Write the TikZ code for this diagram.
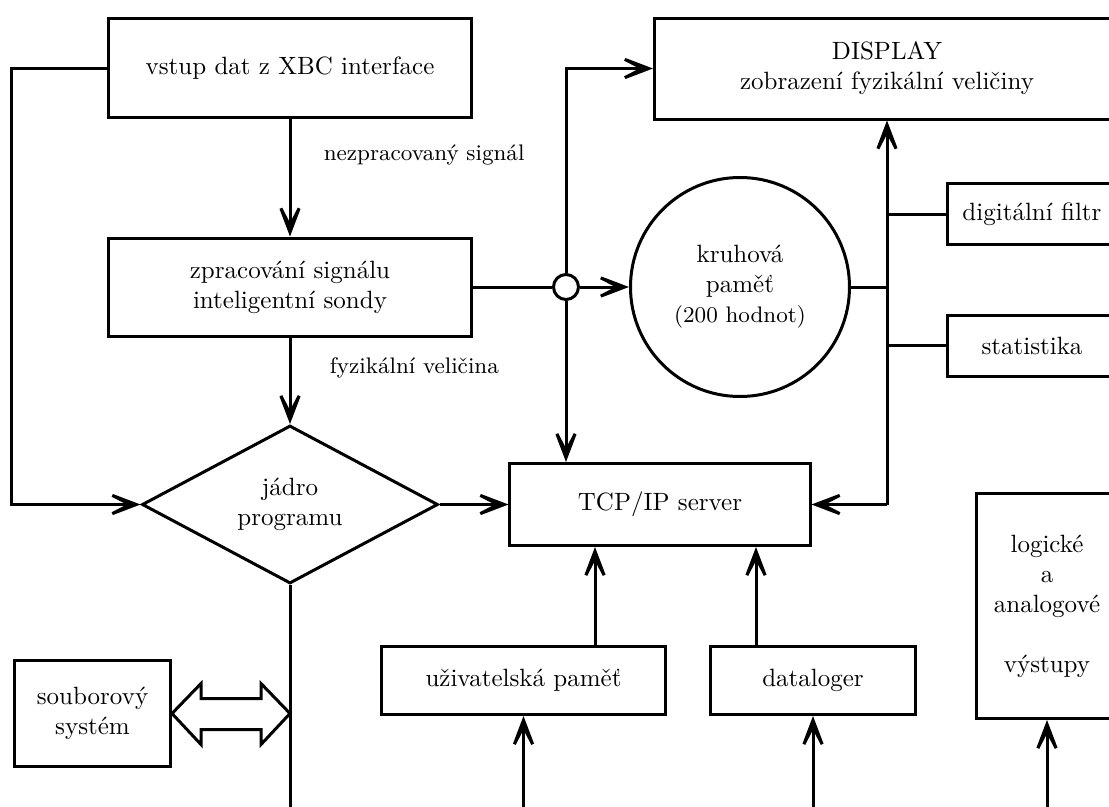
\documentclass[tikz,border=0pt]{standalone}
\usepackage{tikz}
\usetikzlibrary{arrows.meta,positioning,calc,shapes.geometric}
\tikzset{
  blok/.style={draw,line width=1.2pt,fill=white,align=center,inner sep=2pt},
  vetev/.style={line width=1.2pt},
  sip/.style={vetev,-{Stealth[length=21pt,width=16pt,inset=15.5pt]}},
  popis/.style={font=\small,anchor=west},
}

\begin{document}
\begin{tikzpicture}[x=0.4pt,y=-0.4pt]
  \useasboundingbox (0,0) rectangle (1109,807);
  \clip (0,0) rectangle (1109,807);
  % bloky
  \node[blok,minimum width=144.8pt,minimum height=39.6pt] (vstup) at (290,68) {vstup dat z XBC interface};
  \node[blok,minimum width=144.8pt,minimum height=39.2pt] (zprac) at (290,287) {zpracování signálu\\inteligentní sondy};
  \node[blok,diamond,aspect=1.87,inner sep=0pt,minimum width=118.4pt,minimum height=63.2pt] (jadro) at (290,504.5) {jádro\\programu};
  \node[blok,minimum width=120pt,minimum height=32.8pt] (tcp) at (660,504.5) {TCP/IP server};
  \node[blok,minimum width=186pt,minimum height=40.4pt] (disp) at (887,68.5) {DISPLAY\\zobrazení fyzikální veličiny};
  \node[blok,circle,inner sep=0pt,minimum size=87.6pt] (kruh) at (740,287) {kruhová\\paměť\\{\small(200 hodnot)}};
  \node[blok,circle,inner sep=0pt,minimum size=10pt] (jn) at (566,287) {};
  \node[blok,minimum width=67.6pt,minimum height=24.4pt] (filtr) at (1032,214) {digitální filtr};
  \node[blok,minimum width=67.6pt,minimum height=24.4pt] (stat) at (1032,345.5) {statistika};
  \node[blok,minimum width=113.6pt,minimum height=27.2pt] (uziv) at (523.5,680.5) {uživatelská paměť};
  \node[blok,minimum width=82pt,minimum height=27.2pt] (datal) at (813,680.5) {dataloger};
  \node[blok,minimum width=56.4pt,minimum height=90pt] (logic) at (1047,606) {logické\\a\\analogové\\[12pt]výstupy};
  \node[blok,minimum width=62.4pt,minimum height=42.4pt] (soub) at (92.5,713.5) {souborový\\systém};
  \node[popis] (lnez) at (315,155) {nezpracovaný signál};
  \node[popis] (lfyz) at (321,368) {fyzikální veličina};
  \coordinate (bus) at (887,504.5);
  \coordinate (bot) at (0,812);
  \coordinate (tcpU) at ($(tcp.south)+(-65,0)$);
  \coordinate (tcpD) at ($(tcp.south)+(96,0)$);
  % spoje
  \draw[sip] (vstup.south) -- (zprac.north);
  \draw[sip] (zprac.south) -- (jadro.north);
  \draw[sip] (vstup.west) -- ++(-96,0) |- (jadro.west);
  \draw[vetev] (zprac.east) -- (jn.west);
  \draw[sip] (jn.east) -- (kruh.west);
  \draw[sip] (jn.north) |- (disp.west);
  \draw[sip] (jn.south) -- (jn.south |- tcp.north);
  \draw[sip] (jadro.east) -- (tcp.west);
  \draw[sip] (bus) -- (tcp.east);
  \draw[sip] (bus) -- (bus |- disp.south);
  \foreach \n/\a in {kruh/east,filtr/west,stat/west}
    \draw[vetev] (\n.\a) -- (\n.\a -| bus);
  \draw[sip] (uziv.north -| tcpU) -- (tcpU);
  \draw[sip] (datal.north -| tcpD) -- (tcpD);
  \foreach \n in {uziv,datal,logic}
    \draw[sip] (\n.south |- bot) -- (\n.south);
  \draw[vetev] (jadro.south) -- (jadro.south |- bot);
  % oboustranna sipka
  \draw[vetev,fill=white,line join=miter] (soub.east) -- ++(29,-30) -- ++(0,15) -- ++(60,0) -- ++(0,-15)
    -- ++(29,30) -- ++(-29,31) -- ++(0,-15) -- ++(-60,0) -- ++(0,15) -- cycle;
\end{tikzpicture}
\end{document}
